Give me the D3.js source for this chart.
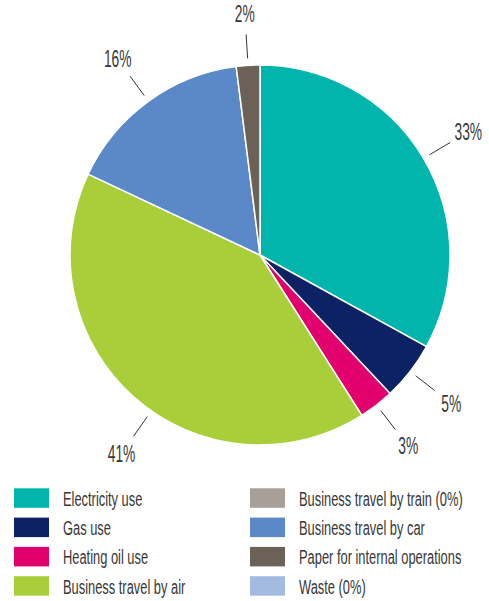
<!DOCTYPE html>
<html>
<head>
<meta charset="utf-8">
<script src="https://cdn.jsdelivr.net/npm/d3@7"></script>
<style>
  html, body { margin: 0; padding: 0; background: #fff; }
  svg text { font-family: "Liberation Sans", Arial, sans-serif; fill: #383838; }
</style>
</head>
<body>
<svg id="chart" width="489" height="601"></svg>
<script>
// Emission sources, in clockwise order from 12 o'clock
const categories = [
  "Electricity use",
  "Gas use",
  "Heating oil use",
  "Business travel by air",
  "Business travel by train (0%)",
  "Business travel by car",
  "Paper for internal operations",
  "Waste (0%)"
];
const shares = [33, 5, 3, 41, 0, 16, 2, 0];
const sliceLabels = ["33%", "5%", "3%", "41%", "", "16%", "2%", ""];
const colors = ["#00b5ab", "#0c2264", "#e2006f", "#a8ce3a", "#a89f98", "#5b88c6", "#6c6157", "#a4bbe1"];

// Layout
const cx = 260, cy = 255, radius = 190;
// angular nudge (degrees) for individual slice labels
const labelNudge = [0, 0, 0, -6.5, 0, 0, 0, 0];
// horizontal squeeze giving the narrow lettering
const legendSqueeze = 0.66, pctSqueeze = 0.6;

const svg = d3.select("#chart");
const data = categories.map((c, i) => ({ name: c, value: shares[i], label: sliceLabels[i], color: colors[i], nudge: labelNudge[i] }));

const pie = d3.pie().value(d => d.value).sort(null);
const arcs = pie(data);
const arc = d3.arc().innerRadius(0).outerRadius(radius);

const g = svg.append("g").attr("transform", `translate(${cx},${cy})`);

g.selectAll("path.slice")
  .data(arcs.filter(a => a.data.value > 0))
  .join("path")
  .attr("class", "slice")
  .attr("d", arc)
  .attr("fill", d => d.data.color)
  .attr("stroke", "#fff")
  .attr("stroke-width", 1.5)
  .attr("stroke-linejoin", "round");

// leader lines and percentage labels
const labelled = arcs.filter(a => a.data.label);
const polar = (ang, r) => [Math.sin(ang) * r, -Math.cos(ang) * r];
const midAngle = d => (d.startAngle + d.endAngle) / 2 + d.data.nudge * Math.PI / 180;

g.selectAll("line.leader")
  .data(labelled)
  .join("line")
  .attr("class", "leader")
  .attr("x1", d => polar(midAngle(d), radius + 7)[0])
  .attr("y1", d => polar(midAngle(d), radius + 7)[1])
  .attr("x2", d => polar(midAngle(d), radius + 31)[0])
  .attr("y2", d => polar(midAngle(d), radius + 31)[1])
  .attr("stroke", "#333")
  .attr("stroke-width", 1);

g.selectAll("text.pct")
  .data(labelled)
  .join("text")
  .attr("class", "pct")
  .attr("transform", d => {
    const [x, y] = polar(midAngle(d), radius + 52);
    return `translate(${x},${y}) scale(${pctSqueeze},1)`;
  })
  .attr("text-anchor", "middle")
  .attr("dy", "0.36em")
  .style("font-size", "23px")
  .text(d => d.data.label);

// legend, two columns of four
const legend = svg.append("g");
const colX = [14, 250], rowY0 = 488.3, rowStep = 29.3;
const items = legend.selectAll("g.item")
  .data(data)
  .join("g")
  .attr("class", "item")
  .attr("transform", (d, i) => `translate(${colX[Math.floor(i / 4)]},${rowY0 + (i % 4) * rowStep})`);

items.append("rect")
  .attr("width", 35)
  .attr("height", 19.5)
  .attr("fill", d => d.color);

items.append("text")
  .attr("transform", `translate(49,17.4) scale(${legendSqueeze},1)`)
  .style("font-size", "19.5px")
  .text(d => d.name);
</script>
</body>
</html>
